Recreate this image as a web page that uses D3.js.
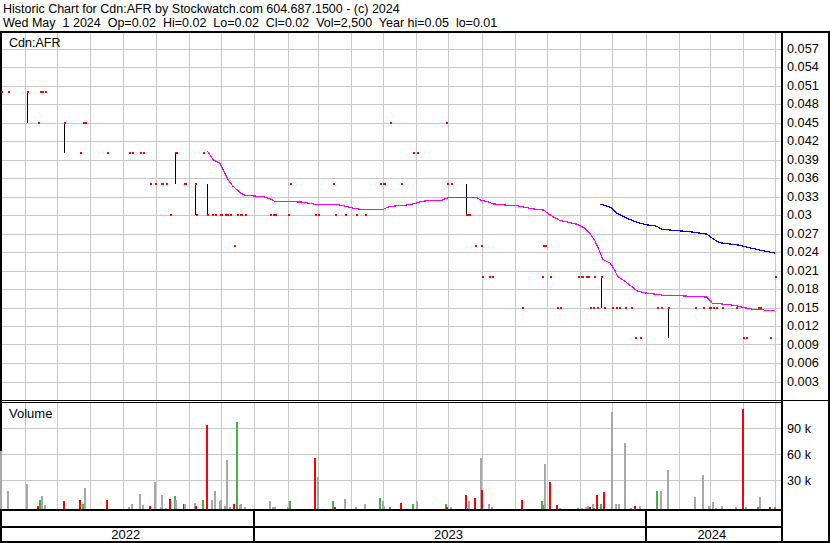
<!DOCTYPE html>
<html><head><meta charset="utf-8">
<script src="https://cdn.jsdelivr.net/npm/d3@7"></script>
<style>
html,body{margin:0;padding:0;background:#fff;}
svg{display:block;font-family:"Liberation Sans",Arial,sans-serif;}
text{white-space:pre;}
</style></head><body>
<svg id="c" width="830" height="543"></svg>
<script>
// ---------- data ----------
const tradeDates = [
"2022-05-10","2022-05-16","2022-06-03","2022-06-13","2022-06-15","2022-06-17","2022-06-20","2022-07-08","2022-07-22","2022-07-25",
"2022-07-27","2022-08-17","2022-09-06","2022-09-09","2022-09-16","2022-09-19","2022-09-26","2022-09-30","2022-10-06","2022-10-07",
"2022-10-11","2022-10-14","2022-10-19","2022-10-20","2022-10-27","2022-10-28","2022-11-07","2022-11-08","2022-11-14","2022-11-18",
"2022-11-23","2022-11-25","2022-11-30","2022-12-01","2022-12-05","2022-12-07","2022-12-09","2022-12-13","2022-12-16","2022-12-19",
"2022-12-20","2022-12-23","2023-01-16","2023-01-18","2023-01-20","2023-02-01","2023-02-03","2023-02-27","2023-03-01","2023-03-15",
"2023-03-17","2023-03-27","2023-04-06","2023-04-14","2023-04-28","2023-05-01","2023-05-02","2023-05-08","2023-05-18","2023-05-29",
"2023-06-02","2023-06-29","2023-06-30","2023-07-03","2023-07-17","2023-07-18","2023-07-20","2023-07-26","2023-07-31","2023-08-01",
"2023-08-08","2023-08-11","2023-09-08","2023-09-26","2023-09-27","2023-09-29","2023-10-04","2023-10-10","2023-10-13","2023-10-30",
"2023-11-02","2023-11-03","2023-11-06","2023-11-08","2023-11-10","2023-11-13","2023-11-14","2023-11-17","2023-11-20","2023-11-23",
"2023-12-01","2023-12-04","2023-12-07","2023-12-13","2023-12-18","2023-12-22","2023-12-27","2024-01-12","2024-01-15","2024-01-22",
"2024-02-16","2024-02-23","2024-02-29","2024-03-01","2024-03-04","2024-03-07","2024-03-12","2024-03-25","2024-04-01","2024-04-04",
"2024-04-15","2024-04-17","2024-04-26","2024-05-01"];
const closes = [
0.05,0.05,0.05,0.045,0.05,0.05,0.05,0.045,0.04,0.045,
0.045,0.04,0.04,0.04,0.04,0.04,0.035,0.035,0.035,0.035,
0.035,0.03,0.04,0.04,0.035,0.035,0.035,0.03,0.04,0.03,
0.03,0.03,0.03,0.03,0.03,0.03,0.03,0.025,0.03,0.03,
0.03,0.03,0.03,0.03,0.03,0.03,0.035,0.03,0.03,0.035,
0.03,0.03,0.03,0.03,0.035,0.035,0.035,0.045,0.035,0.04,
0.04,0.045,0.035,0.035,0.03,0.03,0.03,0.025,0.025,0.02,
0.02,0.02,0.015,0.02,0.025,0.025,0.02,0.015,0.015,0.02,
0.02,0.02,0.02,0.02,0.015,0.015,0.02,0.015,0.02,0.015,
0.015,0.015,0.015,0.015,0.015,0.01,0.01,0.015,0.015,0.015,
0.015,0.015,0.015,0.015,0.015,0.015,0.015,0.015,0.01,0.01,
0.015,0.015,0.01,0.02];
const volumes = [
67000,21000,29000,4000,11000,15000,5000,10000,11000,6000,
25000,11000,3000,6000,18000,5000,4000,32000,3000,17000,
1000,12000,15000,11000,6000,6000,7000,4000,11000,97000,
11000,21000,10000,11000,4000,57000,3000,6000,101000,5000,
6000,3000,10000,3000,3000,3000,10000,59000,37000,10000,
3000,12000,3000,6000,13000,10000,4000,3000,7000,6000,
10000,6000,3000,3000,17000,1000,10000,13000,59000,22000,
6000,3000,11000,10000,5000,52000,32000,5000,2000,2000,
2000,2000,3000,4000,3000,6000,2000,17000,6000,20000,
112000,6000,6000,76000,2000,4000,4000,21000,21000,45000,
14000,40000,4000,1000,8000,2000,4000,3000,116000,3000,
3000,14000,3000,2500];
const rangeDates = ["2022-06-03","2022-07-08","2022-10-19","2022-11-07","2022-11-18","2023-07-17","2023-11-20","2024-01-22"];
const rangeHighs = [0.05,0.045,0.04,0.035,0.035,0.035,0.02,0.015];
const rangeLows  = [0.045,0.04,0.035,0.03,0.03,0.03,0.015,0.01];

const maFastDates = [
"2022-11-18","2022-11-24","2022-11-30","2022-12-03","2022-12-08","2022-12-12","2022-12-19","2022-12-23","2022-12-30","2023-01-09",
"2023-01-16","2023-01-20","2023-01-25","2023-02-14","2023-02-28","2023-03-19","2023-03-25","2023-04-03","2023-04-11","2023-05-01",
"2023-05-06","2023-05-14","2023-05-22","2023-05-29","2023-06-06","2023-06-15","2023-06-25","2023-07-02","2023-07-27","2023-07-31",
"2023-08-06","2023-08-12","2023-08-24","2023-09-03","2023-09-12","2023-09-21","2023-09-28","2023-10-02","2023-10-07","2023-10-13",
"2023-10-19","2023-10-29","2023-11-04","2023-11-10","2023-11-15","2023-11-19","2023-11-22","2023-11-29","2023-12-03","2023-12-06",
"2023-12-13","2023-12-19","2023-12-24","2023-12-30","2024-01-08","2024-01-21","2024-02-02","2024-02-14","2024-02-27","2024-03-03",
"2024-03-17","2024-03-25","2024-04-01","2024-04-04","2024-04-10","2024-04-19","2024-04-21","2024-05-01"];
const maFastValues = [
0.0404,0.0389,0.0384,0.0373,0.0356,0.0347,0.0336,0.0332,0.0331,0.0330,
0.0326,0.0322,0.0322,0.0321,0.0317,0.0317,0.0315,0.0311,0.0309,0.0309,
0.0313,0.0315,0.0316,0.0318,0.0322,0.0324,0.0324,0.0329,0.0329,0.0324,
0.0322,0.0318,0.0316,0.0315,0.0312,0.0309,0.0308,0.0302,0.0297,0.0291,
0.0289,0.0285,0.0280,0.0270,0.0257,0.0241,0.0228,0.0222,0.0211,0.0200,
0.0192,0.0184,0.0177,0.0174,0.0172,0.0169,0.0169,0.0168,0.0167,0.0157,
0.0155,0.0153,0.0150,0.0149,0.0147,0.0147,0.01455,0.01455];
const maSlowDates = [
"2023-11-19","2023-11-30","2023-12-05","2023-12-14","2023-12-24","2024-01-02","2024-01-11","2024-01-16","2024-01-27","2024-02-11",
"2024-02-27","2024-03-04","2024-03-10","2024-03-29","2024-04-06","2024-04-20","2024-05-01"];
const maSlowValues = [
0.0318,0.0312,0.0303,0.0295,0.0288,0.0284,0.0282,0.0277,0.0275,0.0273,
0.0269,0.0261,0.0255,0.0251,0.0247,0.0242,0.0238];

const priceTicks = [0.003,0.006,0.009,0.012,0.015,0.018,0.021,0.024,0.027,0.03,0.033,0.036,0.039,0.042,0.045,0.048,0.051,0.054,0.057];
const volumeTicks = [30000,60000,90000];
const volumeTickLabels = ["30 k","60 k","90 k"];
const yearLabels = ["2022","2023","2024"];
const titleLine = "Historic Chart for Cdn:AFR by Stockwatch.com 604.687.1500 - (c) 2024";
const infoLine = "Wed May  1 2024  Op=0.02  Hi=0.02  Lo=0.02  Cl=0.02  Vol=2,500  Year hi=0.05  lo=0.01";
const symbolLabel = "Cdn:AFR";
const volumeLabel = "Volume";

// ---------- layout ----------
const W = 830, H = 543;
const plotL = 0, plotR = 781;
const priceTop = 33, priceBot = 400, volTop = 402, volBot = 509;
const GRID = "#c8c8c8";
const RED = "#ff0000", GREEN = "#46b046", GRAY = "#a8a8a8";

const parse = d3.utcParse("%Y-%m-%d");
const x = d3.scaleUtc().domain([parse("2023-01-01"), parse("2024-01-01")]).range([254.3, 645.7]);
const yP = d3.scaleLinear().domain([0, 0.057]).range([400, 48.5]);
const yV = d3.scaleLinear().domain([0, 30000]).range([509.3, 483.3]);
const volGridShift = -3;

const svg = d3.select("#c");
svg.append("rect").attr("width", W).attr("height", H).attr("fill", "#fff");

const trades = tradeDates.map((d, i) => ({date: parse(d), close: closes[i], vol: volumes[i],
  prev: i > 0 ? closes[i - 1] : closes[i]}));

// grid
const g = svg.append("g").attr("shape-rendering", "crispEdges");
const months = d3.utcMonth.range(x.invert(plotL + 2), x.invert(plotR));
months.forEach(m => {
  const xx = Math.round(x(m)) + 0.5;
  g.append("line").attr("x1", xx).attr("x2", xx).attr("y1", priceTop).attr("y2", priceBot).attr("stroke", GRID);
  g.append("line").attr("x1", xx).attr("x2", xx).attr("y1", volTop).attr("y2", volBot).attr("stroke", GRID);
});
priceTicks.forEach(t => {
  const yy = Math.round(yP(t)) + 0.5;
  g.append("line").attr("x1", plotL + 2).attr("x2", plotR).attr("y1", yy).attr("y2", yy).attr("stroke", GRID);
});
volumeTicks.forEach(t => {
  const yy = Math.round(yV(t) + volGridShift) + 0.5;
  g.append("line").attr("x1", plotL + 2).attr("x2", plotR).attr("y1", yy).attr("y2", yy).attr("stroke", GRID);
});

// frame
const f = svg.append("g").attr("shape-rendering", "crispEdges").attr("fill", "#000");
f.append("rect").attr("x", 0).attr("y", 31).attr("width", W).attr("height", 2);
f.append("rect").attr("x", 0).attr("y", 31).attr("width", 2).attr("height", H - 31);
f.append("rect").attr("x", plotR).attr("y", 31).attr("width", 2).attr("height", H - 31);
f.append("rect").attr("x", W - 2).attr("y", 31).attr("width", 2).attr("height", H - 31);
f.append("rect").attr("x", 0).attr("y", 400).attr("width", W).attr("height", 1);
f.append("rect").attr("x", 0).attr("y", 402).attr("width", plotR).attr("height", 1);
f.append("rect").attr("x", 0).attr("y", 509).attr("width", plotR).attr("height", 2);
f.append("rect").attr("x", 0).attr("y", 526).attr("width", plotR).attr("height", 2);
f.append("rect").attr("x", 0).attr("y", 541).attr("width", W).attr("height", 2);
const yearStarts = d3.utcYear.range(x.invert(plotL + 1), x.invert(plotR));
yearStarts.forEach(ys => {
  f.append("rect").attr("x", Math.round(x(ys)) - 1).attr("y", 509).attr("width", 2).attr("height", 33);
});

// volume bars
const bars = svg.append("g").attr("shape-rendering", "crispEdges");
trades.forEach(t => {
  const col = t.close > t.prev ? GREEN : (t.close < t.prev ? RED : GRAY);
  const top = yV(t.vol);
  bars.append("rect").attr("x", Math.round(x(t.date)) - 1).attr("y", top)
    .attr("width", 2).attr("height", yV(0) - top).attr("fill", col);
});

// moving averages
const line = d3.line().x(d => x(d[0])).y(d => yP(d[1]));
svg.append("path").datum(maFastDates.map((d, i) => [parse(d), maFastValues[i]]))
  .attr("d", line).attr("fill", "none").attr("stroke", "#ff00ff").attr("stroke-width", 1.2)
  .attr("shape-rendering", "crispEdges");
svg.append("path").datum(maSlowDates.map((d, i) => [parse(d), maSlowValues[i]]))
  .attr("d", line).attr("fill", "none").attr("stroke", "#0000ff").attr("stroke-width", 1.2)
  .attr("shape-rendering", "crispEdges");

// high-low ranges
const rg = svg.append("g").attr("shape-rendering", "crispEdges");
rangeDates.forEach((d, i) => {
  const xx = Math.round(x(parse(d))) + 0.5;
  rg.append("line").attr("x1", xx).attr("x2", xx).attr("y1", yP(rangeHighs[i])).attr("y2", yP(rangeLows[i]))
    .attr("stroke", "#000").attr("stroke-width", 1);
});

// close dots
const dots = svg.append("g").attr("shape-rendering", "crispEdges");
trades.forEach(t => {
  dots.append("rect").attr("x", Math.round(x(t.date))).attr("y", Math.round(yP(t.close)) - 1)
    .attr("width", 2).attr("height", 2).attr("fill", RED);
});

// texts
const T = svg.append("g").attr("fill", "#000");
T.append("text").attr("x", 3).attr("y", 13).attr("font-size", 12.5).attr("xml:space", "preserve").text(titleLine);
T.append("text").attr("x", 3).attr("y", 27).attr("font-size", 12.5).attr("xml:space", "preserve").text(infoLine);
T.append("text").attr("x", 9).attr("y", 46.5).attr("font-size", 12.5).text(symbolLabel);
T.append("text").attr("x", 9).attr("y", 417.5).attr("font-size", 13).text(volumeLabel);
const fmt = v => String(+v.toFixed(3));
priceTicks.forEach(t => {
  T.append("text").attr("x", 787).attr("y", yP(t)).attr("dy", "0.35em").attr("font-size", 12.7).text(fmt(t));
});
volumeTicks.forEach((t, i) => {
  T.append("text").attr("x", 787).attr("y", yV(t) + volGridShift).attr("dy", "0.35em").attr("font-size", 12.7).text(volumeTickLabels[i]);
});
const bounds = [plotL].concat(yearStarts.map(ys => x(ys))).concat([plotR]);
yearLabels.forEach((lab, i) => {
  T.append("text").attr("x", (bounds[i] + bounds[i + 1]) / 2 - 1.5).attr("y", 539).attr("text-anchor", "middle")
    .attr("font-size", 13).text(lab);
});
</script>
</body></html>
